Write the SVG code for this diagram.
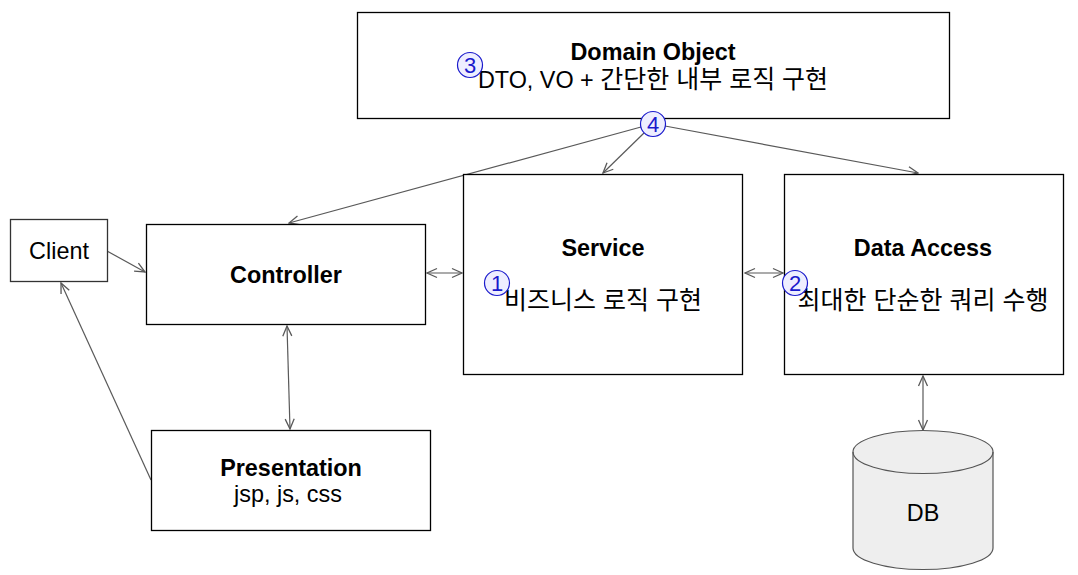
<svg xmlns="http://www.w3.org/2000/svg" width="1078" height="575" viewBox="0 0 1078 575">
<style>
.box{fill:#fff;stroke:#000;stroke-width:1.3}
.t{font-family:"Liberation Sans","Noto Sans CJK KR",Arial,sans-serif;font-size:23.4px;fill:#000;text-anchor:middle}
.b{font-weight:bold}
.k{font-family:"Liberation Sans","Noto Sans CJK KR",sans-serif;font-size:23.4px;fill:#000;text-anchor:middle}
.h{font-size:25px}
.c{fill:#eeeeff;stroke:#1a1acc;stroke-width:1.2}
.cn{font-family:"Liberation Sans",Arial,sans-serif;font-size:22px;fill:#1a1acc;text-anchor:middle}
.e{fill:none;stroke:#595959;stroke-width:1.2}
</style>
<defs>
<marker id="a" viewBox="0 0 12 12" refX="11" refY="6" markerWidth="12" markerHeight="12" markerUnits="userSpaceOnUse" orient="auto-start-reverse">
<path d="M1,1.5 L11,6 L1,10.5" fill="none" stroke="#595959" stroke-width="1.3"/>
</marker>
</defs>
<rect width="1078" height="575" fill="#fff"/>
<g id="connectors">
<line class="e" x1="641" y1="127" x2="289" y2="223" marker-end="url(#a)"/>
<line class="e" x1="644" y1="133" x2="603" y2="173" marker-end="url(#a)"/>
<line class="e" x1="665" y1="126" x2="918" y2="173" marker-end="url(#a)"/>
<line class="e" x1="107" y1="251" x2="145" y2="272" marker-end="url(#a)"/>
<line class="e" x1="151" y1="480" x2="61" y2="283" marker-end="url(#a)"/>
<line class="e" x1="427" y1="273" x2="462" y2="273" marker-start="url(#a)" marker-end="url(#a)"/>
<line class="e" x1="745" y1="273" x2="783" y2="273" marker-start="url(#a)" marker-end="url(#a)"/>
<line class="e" x1="287" y1="326" x2="290" y2="429" marker-start="url(#a)" marker-end="url(#a)"/>
<line class="e" x1="923" y1="376" x2="923" y2="430" marker-start="url(#a)" marker-end="url(#a)"/>
</g>
<g id="domain">
<rect class="box" x="357.5" y="12.5" width="592" height="106"/>
<text class="t b" x="653" y="60">Domain Object</text>
<text class="k" x="653" y="88">DTO, VO + <tspan class="h">간단한 내부 로직 구현</tspan></text>
</g>
<g id="service">
<rect class="box" x="463.5" y="174.5" width="279" height="200"/>
<text class="t b" x="603" y="256">Service</text>
<text class="k h" x="603" y="309">비즈니스 로직 구현</text>
</g>
<g id="dataaccess">
<rect class="box" x="784.5" y="174.5" width="279" height="200"/>
<text class="t b" x="923" y="256">Data Access</text>
<text class="k h" x="923" y="309">최대한 단순한 쿼리 수행</text>
</g>
<g id="controller">
<rect class="box" x="146.5" y="224.5" width="279" height="100"/>
<text class="t b" x="286" y="283">Controller</text>
</g>
<g id="client">
<rect x="10.5" y="219.5" width="97" height="62" fill="#fff" stroke="#333" stroke-width="1.3"/>
<text class="t" x="59" y="259">Client</text>
</g>
<g id="presentation">
<rect class="box" x="151.5" y="430.5" width="279" height="100"/>
<text class="t b" x="291" y="476">Presentation</text>
<text class="t" x="288" y="502">jsp, js, css</text>
</g>
<g id="db">
<path d="M853,452 A70,21.5 0 0 1 993,452 L993,548 A70,21.5 0 0 1 853,548 Z" fill="#eeeeee" stroke="#555" stroke-width="1.2"/>
<path d="M853,452 A70,21.5 0 0 0 993,452" fill="none" stroke="#555" stroke-width="1.2"/>
<text class="t" x="923" y="521">DB</text>
</g>
<g id="mark3">
<circle class="c" cx="470" cy="65" r="12.5"/>
<text class="cn" x="470" y="73">3</text>
</g>
<g id="mark4">
<circle class="c" cx="653" cy="124" r="12.5"/>
<text class="cn" x="653" y="132">4</text>
</g>
<g id="mark1">
<circle class="c" cx="497" cy="283" r="12.5"/>
<text class="cn" x="497" y="291">1</text>
</g>
<g id="mark2">
<circle class="c" cx="795" cy="283" r="12.5"/>
<text class="cn" x="795" y="291">2</text>
</g>
</svg>
